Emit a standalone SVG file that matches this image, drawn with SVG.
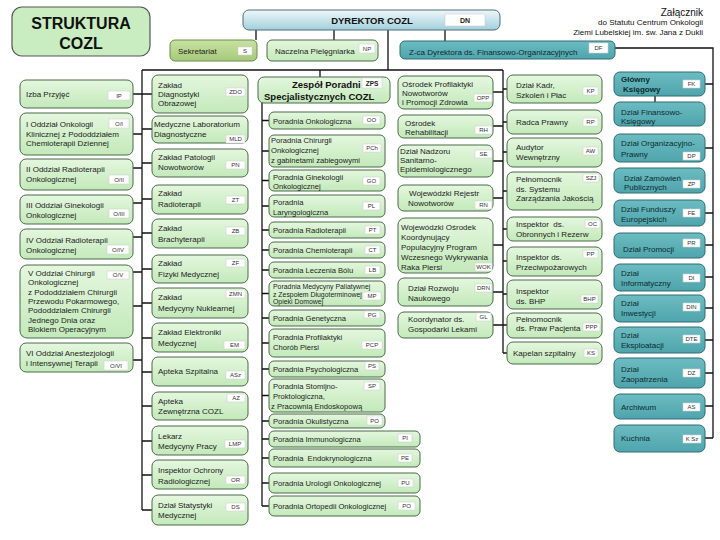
<svg xmlns="http://www.w3.org/2000/svg" width="720" height="540" viewBox="0 0 720 540">
<defs>
<linearGradient id="gg" x1="0" y1="0" x2="0" y2="1"><stop offset="0" stop-color="#e4f7de"/><stop offset="1" stop-color="#c3e9ba"/></linearGradient>
<linearGradient id="tg" x1="0" y1="0" x2="0" y2="1"><stop offset="0" stop-color="#6cbcc2"/><stop offset="1" stop-color="#4fa4ab"/></linearGradient>
<linearGradient id="dg" x1="0" y1="0" x2="0" y2="1"><stop offset="0" stop-color="#eef8fb"/><stop offset="1" stop-color="#a2cfdb"/></linearGradient>
<linearGradient id="sg" x1="0" y1="0" x2="0" y2="1"><stop offset="0" stop-color="#c8e2a2"/><stop offset="1" stop-color="#a6c979"/></linearGradient>
</defs>
<style>
.g{fill:url(#gg);stroke:#4a6b48;stroke-width:1}
.t{fill:url(#tg);stroke:#2f6c72;stroke-width:1}
.lb{fill:#fff;stroke:#cfcfcf;stroke-width:.6}
text{font-family:"Liberation Sans",Arial,sans-serif}
.x{font-size:8px;fill:#1c1c1c}
.p{font-size:7.6px;fill:#1c1c1c}
.tt{font-size:8px;fill:#0e2b2f}
.l{font-size:6px;fill:#333;text-anchor:middle}
.c{stroke:#111;stroke-width:1.3;fill:none}
</style>
<rect width="720" height="540" fill="#fff"/>

<g id="connectors" class="c">
<path d="M256 30V40M334 30V40M388 30V70M445 30V41"/>
<path d="M142 70H503M320 70V77"/>
<path d="M142 70V510"/>
<path d="M503 70V353"/>
<path d="M262 103V506"/>
<path d="M615 48H713V438"/>
<path d="M655 96V102"/>
<!-- left column ticks -->
<path d="M133 94H142M133 134H142M133 168H142M133 203H142M133 237H142M133 272H142M133 306H142M133 360H142"/>
<!-- zaklad ticks -->
<path d="M142 94H152M142 129H152M142 163H152M142 199H152M142 233H152M142 269H152M142 303H152M142 338H152M142 372H152M142 406H152M142 441H152M142 475H152M142 510H152"/>
<!-- poradnie ticks -->
<path d="M262 120.5H269M262 151H269M262 180.5H269M262 206H269M262 230H269M262 250H269M262 270H269M262 293.5H269M262 318H269M262 343H269M262 369H269M262 395.5H269M262 421H269M262 439H269M262 458H269M262 483H269M262 506H269"/>
<!-- osrodek ticks -->
<path d="M493 92H503M493 126H503M493 161H503M493 198H503M493 245H503M493 292H503M493 325H503"/>
<!-- kadr ticks -->
<path d="M503 89H507M503 122H507M503 152H507M503 191H507M503 229H507M503 261H507M503 294H507M503 325H507M503 353H507"/>
<!-- teal ticks -->
<path d="M705 84H713M705 148H713M705 213H713M705 245H713M705 277H713M705 308H713M705 340H713M705 373H713M705 406H713M705 438H713"/>
</g>

<g id="title"><rect x="12" y="7" width="138" height="49" rx="10" fill="#c9ecc1" stroke="#555" stroke-width="1.2"/><text x="81" y="29" font-size="16" font-weight="bold" text-anchor="middle" fill="#111">STRUKTURA</text><text x="81" y="49" font-size="16" font-weight="bold" text-anchor="middle" fill="#111">COZL</text></g>

<g id="header-note" fill="#111" text-anchor="end"><text x="703" y="15.5" font-size="10">Załącznik</text><text x="703" y="25" font-size="8">do Statutu Centrum Onkologii</text><text x="703" y="35" font-size="8">Ziemi Lubelskiej im. św. Jana z Dukli</text></g>

<g id="n-dn"><rect x="243" y="10" width="257" height="20" rx="6" fill="url(#dg)" stroke="#4c6f78"/><text x="372" y="23.5" font-size="9.5" font-weight="bold" text-anchor="middle" fill="#111">DYREKTOR COZL</text><rect class="lb" x="445" y="14" width="40" height="12"/><text x="465" y="22.5" font-size="7" font-weight="bold" text-anchor="middle" fill="#222">DN</text></g>

<g id="n-s"><rect x="170" y="40" width="87" height="21" rx="5" fill="url(#sg)" stroke="#6a8a4c"/><text class="x" x="178" y="54">Sekretariat</text><rect class="lb" x="238" y="47" width="14" height="8"/><text class="l" x="245" y="53.2">S</text></g>
<g id="n-np"><rect class="g" x="267" y="40" width="111" height="21" rx="5"/><text class="x" x="275" y="54">Naczelna Pielęgniarka</text><rect class="lb" x="359" y="44" width="16" height="9"/><text class="l" x="367" y="50.7">NP</text></g>
<g id="n-df"><rect class="t" x="400" y="41" width="215" height="18" rx="5"/><text class="tt" x="409" y="54.5">Z-ca Dyrektora ds. Finansowo-Organizacyjnych</text><rect class="lb" x="589" y="43" width="19" height="10"/><text class="l" x="598.5" y="50.2">DF</text></g>

<!-- left column -->
<g id="n-ip"><rect class="g" x="20" y="80" width="113" height="28" rx="6"/><text class="x" x="26" y="97">Izba Przyjęć</text><rect class="lb" x="108" y="91" width="22" height="9"/><text class="l" x="119" y="97.7">IP</text></g>
<g id="n-o1"><rect class="g" x="20" y="113" width="113" height="42" rx="6"/><text class="x" x="26" y="127">I Oddział Onkologii</text><text class="x" x="26" y="136.5">Klinicznej z Pododdziałem</text><text class="x" x="26" y="146">Chemioterapii Dziennej</text><rect class="lb" x="109" y="119" width="20" height="9"/><text class="l" x="119" y="125.7">O/I</text></g>
<g id="n-o2"><rect class="g" x="20" y="159" width="113" height="31" rx="6"/><text class="x" x="26" y="172">II Oddział Radioterapii</text><text class="x" x="26" y="182">Onkologicznej</text><rect class="lb" x="109" y="175" width="20" height="9"/><text class="l" x="119" y="181.7">O/II</text></g>
<g id="n-o3"><rect class="g" x="20" y="195" width="113" height="29" rx="6"/><text class="x" x="26" y="208">III Oddział Ginekologii</text><text class="x" x="26" y="217.5">Onkologicznej</text><rect class="lb" x="109" y="209" width="20" height="9"/><text class="l" x="119" y="215.7">O/III</text></g>
<g id="n-o4"><rect class="g" x="20" y="229" width="113" height="30" rx="6"/><text class="x" x="26" y="243">IV Oddział Radioterapii</text><text class="x" x="26" y="252.5">Onkologicznej</text><rect class="lb" x="107" y="245" width="22" height="9"/><text class="l" x="118" y="251.7">O/IV</text></g>
<g id="n-o5"><rect class="g" x="20" y="265" width="113" height="73" rx="7"/><text class="x" x="28" y="276">V Oddział Chirurgii</text><text class="x" x="28" y="285">Onkologicznej</text><text class="x" x="28" y="294.5">z Pododdziałem Chirurgii</text><text class="x" x="28" y="304">Przewodu Pokarmowego,</text><text class="x" x="28" y="313">Pododdziałem Chirurgii</text><text class="x" x="28" y="322.5">Jednego Dnia oraz</text><text class="x" x="28" y="332">Blokiem Operacyjnym</text><rect class="lb" x="107" y="271" width="22" height="8"/><text class="l" x="118" y="277.2">O/V</text></g>
<g id="n-o6"><rect class="g" x="20" y="343" width="113" height="29" rx="6"/><text class="x" x="26" y="356">VI Oddział Anestezjologii</text><text class="x" x="26" y="365.5">i Intensywnej Terapii</text><rect class="lb" x="104" y="361" width="24" height="9"/><text class="l" x="116" y="367.7">O/VI</text></g>

<!-- zaklad column -->
<g id="n-zdo"><rect class="g" x="152" y="75" width="96" height="38" rx="6"/><text class="x" x="158" y="88">Zakład</text><text class="x" x="158" y="97">Diagnostyki</text><text class="x" x="158" y="106">Obrazowej</text><rect class="lb" x="226" y="88" width="19" height="8"/><text class="l" x="235.5" y="94.2">ZDO</text></g>
<g id="n-mld"><rect class="g" x="152" y="116" width="96" height="27" rx="6"/><text class="x" x="154" y="127">Medyczne Laboratorium</text><text class="x" x="154" y="137">Diagnostyczne</text><rect class="lb" x="226" y="135" width="19" height="8"/><text class="l" x="235.5" y="141.2">MLD</text></g>
<g id="n-pn"><rect class="g" x="152" y="149" width="96" height="28" rx="6"/><text class="x" x="158" y="160">Zakład Patologii</text><text class="x" x="158" y="170">Nowotworów</text><rect class="lb" x="226" y="161" width="19" height="8"/><text class="l" x="235.5" y="167.2">PN</text></g>
<g id="n-zt"><rect class="g" x="152" y="185" width="96" height="29" rx="6"/><text class="x" x="158" y="196">Zakład</text><text class="x" x="158" y="207">Radioterapii</text><rect class="lb" x="226" y="196" width="19" height="8"/><text class="l" x="235.5" y="202.2">ZT</text></g>
<g id="n-zb"><rect class="g" x="152" y="219" width="96" height="29" rx="6"/><text class="x" x="158" y="231">Zakład</text><text class="x" x="158" y="242">Brachyterapii</text><rect class="lb" x="226" y="227" width="19" height="8"/><text class="l" x="235.5" y="233.2">ZB</text></g>
<g id="n-zf"><rect class="g" x="152" y="255" width="96" height="28" rx="6"/><text class="x" x="158" y="266">Zakład</text><text class="x" x="158" y="277">Fizyki Medycznej</text><rect class="lb" x="226" y="259" width="19" height="8"/><text class="l" x="235.5" y="265.2">ZF</text></g>
<g id="n-zmn"><rect class="g" x="152" y="288" width="96" height="30" rx="6"/><text class="x" x="158" y="300">Zakład</text><text class="x" x="158" y="311">Medycyny Nuklearnej</text><rect class="lb" x="226" y="290" width="19" height="8"/><text class="l" x="235.5" y="296.2">ZMN</text></g>
<g id="n-em"><rect class="g" x="152" y="323" width="96" height="29" rx="6"/><text class="x" x="158" y="335">Zakład Elektroniki</text><text class="x" x="158" y="346">Medycznej</text><rect class="lb" x="224" y="341" width="21" height="8"/><text class="l" x="234.5" y="347.2">EM</text></g>
<g id="n-asz"><rect class="g" x="152" y="357" width="96" height="29" rx="6"/><text class="x" x="158" y="374">Apteka Szpitalna</text><rect class="lb" x="226" y="371" width="19" height="8"/><text class="l" x="235.5" y="377.2">ASz</text></g>
<g id="n-az"><rect class="g" x="152" y="392" width="96" height="28" rx="6"/><text class="x" x="158" y="404">Apteka</text><text class="x" x="158" y="414">Zewnętrzna COZL</text><rect class="lb" x="227" y="394" width="18" height="8"/><text class="l" x="236" y="400.2">AZ</text></g>
<g id="n-lmp"><rect class="g" x="152" y="426" width="96" height="29" rx="6"/><text class="x" x="158" y="439">Lekarz</text><text class="x" x="158" y="449">Medycyny Pracy</text><rect class="lb" x="225" y="440" width="20" height="8"/><text class="l" x="235" y="446.2">LMP</text></g>
<g id="n-or"><rect class="g" x="152" y="460" width="96" height="29" rx="6"/><text class="x" x="158" y="473">Inspektor Ochrony</text><text class="x" x="158" y="484">Radiologicznej</text><rect class="lb" x="226" y="476" width="19" height="8"/><text class="l" x="235.5" y="482.2">OR</text></g>
<g id="n-ds"><rect class="g" x="152" y="495" width="96" height="30" rx="6"/><text class="x" x="158" y="508">Dział Statystyki</text><text class="x" x="158" y="518">Medycznej</text><rect class="lb" x="226" y="503" width="19" height="8"/><text class="l" x="235.5" y="509.2">DS</text></g>

<!-- ZPS -->
<g id="n-zps"><rect class="g" x="258" y="77" width="132" height="26" rx="6"/><text x="292" y="88" font-size="9.5" font-weight="bold" fill="#111">Zespół Poradni</text><text x="264" y="100" font-size="9.5" font-weight="bold" fill="#111">Specjalistycznych COZL</text><rect class="lb" x="362" y="78" width="20" height="10"/><text x="372" y="85.5" font-size="6.5" font-weight="bold" text-anchor="middle" fill="#222">ZPS</text></g>
<g id="n-oo"><rect class="g" x="269" y="112" width="116" height="17" rx="5"/><text class="p" x="273" y="123.5">Poradnia Onkologiczna</text><rect class="lb" x="363" y="116" width="17" height="8"/><text class="l" x="371.5" y="122.2">OO</text></g>
<g id="n-pch"><rect class="g" x="269" y="135" width="116" height="32" rx="5"/><text class="p" x="271" y="143">Poradnia Chirurgii</text><text class="p" x="271" y="153">Onkologicznej</text><text class="p" x="271" y="163">z gabinetami zabiegowymi</text><rect class="lb" x="363" y="144" width="18" height="8"/><text class="l" x="372" y="150.2">PCh</text></g>
<g id="n-go"><rect class="g" x="269" y="170" width="116" height="21" rx="5"/><text class="p" x="273" y="179.5">Poradnia Ginekologii</text><text class="p" x="273" y="189">Onkologicznej</text><rect class="lb" x="363" y="177" width="17" height="8"/><text class="l" x="371.5" y="183.2">GO</text></g>
<g id="n-pl"><rect class="g" x="269" y="195" width="116" height="22" rx="5"/><text class="p" x="273" y="204.5">Poradnia</text><text class="p" x="273" y="214.5">Laryngologiczna</text><rect class="lb" x="363" y="202" width="17" height="8"/><text class="l" x="371.5" y="208.2">PL</text></g>
<g id="n-pt"><rect class="g" x="269" y="222" width="116" height="16" rx="5"/><text class="p" x="273" y="232.8">Poradnia Radioterapii</text><rect class="lb" x="365" y="226" width="15" height="8"/><text class="l" x="372.5" y="232.2">PT</text></g>
<g id="n-ct"><rect class="g" x="269" y="242" width="116" height="16" rx="5"/><text class="p" x="273" y="252.8">Poradnia Chemioterapii</text><rect class="lb" x="365" y="246" width="15" height="8"/><text class="l" x="372.5" y="252.2">CT</text></g>
<g id="n-lb"><rect class="g" x="269" y="262" width="116" height="16" rx="5"/><text class="p" x="273" y="272.8">Poradnia Leczenia Bólu</text><rect class="lb" x="365" y="266" width="15" height="8"/><text class="l" x="372.5" y="272.2">LB</text></g>
<g id="n-mp"><rect class="g" x="269" y="281" width="116" height="25" rx="5"/><text x="273" y="289" font-size="6.9" fill="#1c1c1c">Poradnia Medycyny Paliatywnej</text><text x="273" y="296.5" font-size="6.9" fill="#1c1c1c">z Zespołem Długoterminowej</text><text x="273" y="304" font-size="6.9" fill="#1c1c1c">Opieki Domowej</text><rect class="lb" x="363" y="292" width="18" height="8"/><text class="l" x="372" y="298.2">MP</text></g>
<g id="n-pg"><rect class="g" x="269" y="310" width="116" height="16" rx="5"/><text class="p" x="273" y="320.8">Poradnia Genetyczna</text><rect class="lb" x="364" y="311" width="16" height="7"/><text class="l" x="372" y="316.6">PG</text></g>
<g id="n-pcp"><rect class="g" x="269" y="329" width="116" height="28" rx="5"/><text class="p" x="273" y="340">Poradnia Profilaktyki</text><text class="p" x="273" y="350">Chorób Piersi</text><rect class="lb" x="362" y="341" width="20" height="8"/><text class="l" x="372" y="347.2">PCP</text></g>
<g id="n-ps"><rect class="g" x="269" y="361" width="116" height="16" rx="5"/><text class="p" x="273" y="371.8">Poradnia Psychologiczna</text><rect class="lb" x="365" y="362" width="14" height="8"/><text class="l" x="372" y="368.2">PS</text></g>
<g id="n-sp"><rect class="g" x="269" y="379" width="116" height="33" rx="5"/><text class="p" x="273" y="389">Poradnia Stomijno-</text><text class="p" x="273" y="399">Proktologiczna,</text><text class="p" x="271" y="409">z Pracownią Endoskopową</text><rect class="lb" x="364" y="382" width="16" height="8"/><text class="l" x="372" y="388.2">SP</text></g>
<g id="n-po"><rect class="g" x="269" y="414" width="116" height="14" rx="5"/><text class="p" x="273" y="423.8">Poradnia Okulistyczna</text><rect class="lb" x="367" y="416" width="15" height="9"/><text class="l" x="374.5" y="422.7">PO</text></g>
<g id="n-pi"><rect class="g" x="269" y="431" width="151" height="16" rx="5"/><text class="p" x="273" y="441.8">Poradnia Immunologiczna</text><rect class="lb" x="398" y="434" width="14" height="8"/><text class="l" x="405" y="440.2">PI</text></g>
<g id="n-pe"><rect class="g" x="269" y="449" width="151" height="18" rx="5"/><text class="p" x="273" y="460.8">Poradnia&#160; Endokrynologiczna</text><rect class="lb" x="398" y="454" width="14" height="8"/><text class="l" x="405" y="460.2">PE</text></g>
<g id="n-pu"><rect class="g" x="269" y="473" width="151" height="20" rx="5"/><text class="p" x="273" y="485.8">Poradnia Urologii Onkologicznej</text><rect class="lb" x="398" y="479" width="15" height="8"/><text class="l" x="405.5" y="485.2">PU</text></g>
<g id="n-port"><rect class="g" x="269" y="496" width="151" height="20" rx="5"/><text class="p" x="273" y="508.8">Poradnia Ortopedii Onkologicznej</text><rect class="lb" x="398" y="502" width="17" height="8"/><text class="l" x="406.5" y="508.2">PO</text></g>

<!-- osrodek column -->
<g id="n-opp"><rect class="g" x="398" y="76" width="95" height="33" rx="6"/><text class="x" x="402" y="87">Ośrodek Profilaktyki</text><text class="x" x="402" y="96">Nowotworów</text><text class="x" x="402" y="105">i Promocji Zdrowia</text><rect class="lb" x="474" y="94" width="18" height="8"/><text class="l" x="483" y="100.2">OPP</text></g>
<g id="n-rh"><rect class="g" x="398" y="115" width="95" height="23" rx="6"/><text class="x" x="405" y="125.5">Ośrodek</text><text class="x" x="405" y="135">Rehabilitacji</text><rect class="lb" x="475" y="126" width="17" height="8"/><text class="l" x="483.5" y="132.2">RH</text></g>
<g id="n-se"><rect class="g" x="398" y="145" width="95" height="32" rx="6"/><text class="x" x="400" y="153.5">Dział Nadzoru</text><text class="x" x="400" y="162.5">Sanitarno-</text><text class="x" x="400" y="171.5">Epidemiologicznego</text><rect class="lb" x="475" y="150" width="17" height="8"/><text class="l" x="483.5" y="156.2">SE</text></g>
<g id="n-rn"><rect class="g" x="398" y="185" width="95" height="26" rx="6"/><text class="x" x="409" y="196">Wojewódzki Rejestr</text><text class="x" x="408" y="206">Nowotworów</text><rect class="lb" x="475" y="201" width="17" height="8"/><text class="l" x="483.5" y="207.2">RN</text></g>
<g id="n-wok"><rect class="g" x="398" y="218" width="95" height="55" rx="7"/><text class="x" x="401" y="230">Wojewódzki Ośrodek</text><text class="x" x="401" y="240">Koordynujący</text><text class="x" x="401" y="250">Populacyjny Program</text><text class="x" x="401" y="260">Wczesnego Wykrywania</text><text class="x" x="401" y="269.5">Raka Piersi</text><rect class="lb" x="475" y="263" width="17" height="8"/><text class="l" x="483.5" y="269.2">WOK</text></g>
<g id="n-drn"><rect class="g" x="398" y="278" width="95" height="28" rx="6"/><text class="x" x="408" y="291">Dział Rozwoju</text><text class="x" x="408" y="301">Naukowego</text><rect class="lb" x="475" y="284" width="17" height="8"/><text class="l" x="483.5" y="290.2">DRN</text></g>
<g id="n-gl"><rect class="g" x="398" y="312" width="95" height="26" rx="6"/><text class="x" x="408" y="322">Koordynator ds.</text><text class="x" x="408" y="332">Gospodarki Lekami</text><rect class="lb" x="476" y="313" width="15" height="8"/><text class="l" x="483.5" y="319.2">GL</text></g>

<!-- kadr column -->
<g id="n-kp"><rect class="g" x="507" y="75" width="95" height="28" rx="6"/><text class="x" x="516" y="88">Dział Kadr,</text><text class="x" x="516" y="98">Szkoleń i Płac</text><rect class="lb" x="583" y="87" width="15" height="8"/><text class="l" x="590.5" y="93.2">KP</text></g>
<g id="n-rp"><rect class="g" x="507" y="110" width="95" height="24" rx="6"/><text class="x" x="516" y="125">Radca Prawny</text><rect class="lb" x="583" y="118" width="15" height="8"/><text class="l" x="590.5" y="124.2">RP</text></g>
<g id="n-aw"><rect class="g" x="507" y="138" width="95" height="29" rx="6"/><text class="x" x="516" y="150">Audytor</text><text class="x" x="516" y="160">Wewnętrzny</text><rect class="lb" x="583" y="147" width="15" height="8"/><text class="l" x="590.5" y="153.2">AW</text></g>
<g id="n-szj"><rect class="g" x="507" y="172" width="95" height="38" rx="6"/><text class="x" x="516" y="182">Pełnomocnik</text><text class="x" x="516" y="191.5">ds. Systemu</text><text class="x" x="516" y="201">Zarządzania Jakością</text><rect class="lb" x="583" y="174" width="16" height="8"/><text class="l" x="591" y="180.2">SZJ</text></g>
<g id="n-oc"><rect class="g" x="507" y="217" width="95" height="24" rx="6"/><text class="x" x="516" y="227">Inspektor&#160; ds.</text><text class="x" x="516" y="237">Obronnych i Rezerw</text><rect class="lb" x="585" y="220" width="15" height="8"/><text class="l" x="592.5" y="226.2">OC</text></g>
<g id="n-pp"><rect class="g" x="507" y="247" width="95" height="29" rx="6"/><text class="x" x="516" y="260">Inspektor ds.</text><text class="x" x="516" y="270">Przeciwpożarowych</text><rect class="lb" x="583" y="250" width="15" height="8"/><text class="l" x="590.5" y="256.2">PP</text></g>
<g id="n-bhp"><rect class="g" x="507" y="280" width="95" height="29" rx="6"/><text class="x" x="516" y="294">Inspektor</text><text class="x" x="516" y="304">ds. BHP</text><rect class="lb" x="581" y="295" width="17" height="8"/><text class="l" x="589.5" y="301.2">BHP</text></g>
<g id="n-ppp"><rect class="g" x="507" y="313" width="95" height="25" rx="6"/><text class="x" x="516" y="321.5">Pełnomocnik</text><text class="x" x="516" y="331">ds. Praw Pacjenta</text><rect class="lb" x="583" y="323" width="17" height="8"/><text class="l" x="591.5" y="329.2">PPP</text></g>
<g id="n-ks"><rect class="g" x="507" y="342" width="95" height="22" rx="6"/><text class="x" x="513" y="356">Kapelan szpitalny</text><rect class="lb" x="584" y="349" width="14" height="8"/><text class="l" x="591" y="355.2">KS</text></g>

<!-- teal column -->
<g id="n-fk"><rect class="t" x="614" y="72" width="91" height="24" rx="6" stroke="#245a60" stroke-width="1.4"/><text x="621" y="81.5" font-size="8" font-weight="bold" fill="#0e2b2f">Główny</text><text x="623" y="92" font-size="8" font-weight="bold" fill="#0e2b2f">Księgowy</text><rect class="lb" x="683" y="80" width="17" height="8"/><text class="l" x="691.5" y="86.2">FK</text></g>
<g id="n-dfk"><rect class="t" x="614" y="102" width="91" height="24" rx="6"/><text class="tt" x="621" y="115">Dział Finansowo-</text><text class="tt" x="621" y="124">Księgowy</text></g>
<g id="n-dp"><rect class="t" x="614" y="134" width="91" height="28" rx="6"/><text class="tt" x="621" y="146">Dział Organizacyjno-</text><text class="tt" x="621" y="157">Prawny</text><rect class="lb" x="683" y="152" width="17" height="8"/><text class="l" x="691.5" y="158.2">DP</text></g>
<g id="n-zp"><rect class="t" x="614" y="168" width="91" height="25" rx="6"/><text class="tt" x="624" y="180.5">Dział Zamówień</text><text class="tt" x="624" y="190">Publicznych</text><rect class="lb" x="683" y="180" width="17" height="8"/><text class="l" x="691.5" y="186.2">ZP</text></g>
<g id="n-fe"><rect class="t" x="614" y="200" width="91" height="26" rx="6"/><text class="tt" x="621" y="212">Dział Funduszy</text><text class="tt" x="621" y="221.5">Europejskich</text><rect class="lb" x="683" y="209" width="17" height="8"/><text class="l" x="691.5" y="215.2">FE</text></g>
<g id="n-pr"><rect class="t" x="614" y="233" width="91" height="25" rx="6"/><text class="tt" x="623" y="252">Dział Promocji</text><rect class="lb" x="683" y="239" width="17" height="8"/><text class="l" x="691.5" y="245.2">PR</text></g>
<g id="n-di"><rect class="t" x="614" y="264" width="91" height="27" rx="6"/><text class="tt" x="621" y="276">Dział</text><text class="tt" x="621" y="285.5">Informatyczny</text><rect class="lb" x="683" y="274" width="17" height="8"/><text class="l" x="691.5" y="280.2">DI</text></g>
<g id="n-din"><rect class="t" x="614" y="295" width="91" height="27" rx="6"/><text class="tt" x="621" y="306">Dział</text><text class="tt" x="621" y="316">Inwestycji</text><rect class="lb" x="683" y="303" width="17" height="8"/><text class="l" x="691.5" y="309.2">DIN</text></g>
<g id="n-dte"><rect class="t" x="614" y="327" width="91" height="26" rx="6"/><text class="tt" x="621" y="338">Dział</text><text class="tt" x="621" y="348">Eksploatacji</text><rect class="lb" x="683" y="335" width="17" height="8"/><text class="l" x="691.5" y="341.2">DTE</text></g>
<g id="n-dz"><rect class="t" x="614" y="358" width="91" height="30" rx="6"/><text class="tt" x="621" y="372">Dział</text><text class="tt" x="621" y="382">Zaopatrzenia</text><rect class="lb" x="683" y="369" width="17" height="8"/><text class="l" x="691.5" y="375.2">DZ</text></g>
<g id="n-as"><rect class="t" x="614" y="394" width="91" height="25" rx="6"/><text class="tt" x="621" y="410">Archiwum</text><rect class="lb" x="683" y="403" width="17" height="8"/><text class="l" x="691.5" y="409.2">AS</text></g>
<g id="n-ksz"><rect class="t" x="614" y="425" width="91" height="27" rx="6"/><text class="tt" x="621" y="441">Kuchnia</text><rect class="lb" x="683" y="435" width="18" height="8"/><text class="l" x="692" y="441.2">K Sz</text></g>
</svg>
